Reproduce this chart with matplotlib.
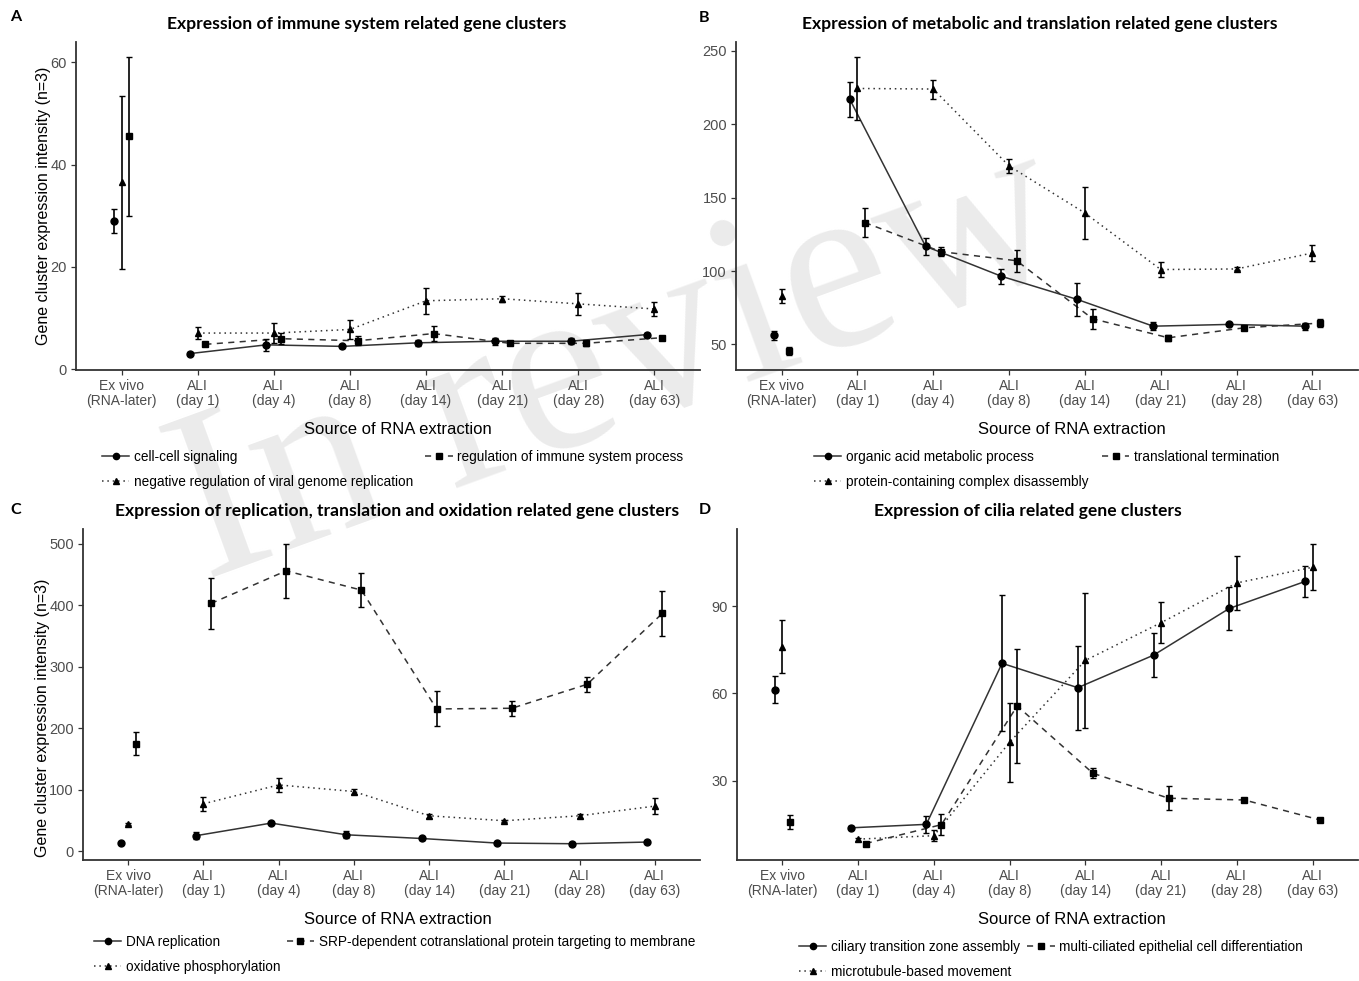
import numpy as np
import matplotlib
matplotlib.use("Agg")
import matplotlib.pyplot as plt
from matplotlib.lines import Line2D
from matplotlib import font_manager

# x categories shared by all four panels
categories = ["Ex vivo\n(RNA-later)", "ALI\n(day 1)", "ALI\n(day 4)", "ALI\n(day 8)",
              "ALI\n(day 14)", "ALI\n(day 21)", "ALI\n(day 28)", "ALI\n(day 63)"]

# A - immune system
a_labels = ["cell-cell signaling", "regulation of immune system process",
            "negative regulation of viral genome replication"]
a_circle = [29.0, 3.1, 4.8, 4.5, 5.2, 5.5, 5.5, 6.8]
a_circle_err = [2.4, 0.3, 1.2, 0.3, 0.6, 0.7, 0.6, 0.3]
a_square = [45.5, 4.9, 6.0, 5.6, 7.0, 5.1, 5.1, 6.2]
a_square_err = [15.5, 0.3, 1.1, 0.9, 1.4, 0.3, 0.5, 0.3]
a_tri = [36.5, 7.1, 7.1, 7.8, 13.4, 13.8, 12.8, 11.8]
a_tri_err = [16.8, 1.1, 1.9, 1.9, 2.5, 0.6, 2.2, 1.4]
a_ticks = [0, 20, 40, 60]

# B - metabolic / translation
b_labels = ["organic acid metabolic process", "translational termination",
            "protein-containing complex disassembly"]
b_circle = [56.1, 217.0, 116.8, 96.4, 80.6, 62.4, 63.6, 62.4]
b_circle_err = [3.2, 12.0, 6.0, 5.0, 11.3, 2.8, 1.0, 2.5]
b_square = [45.5, 133.0, 113.2, 107.0, 67.5, 54.5, 61.3, 64.5]
b_square_err = [2.8, 10.0, 3.0, 7.4, 6.8, 2.0, 1.2, 2.5]
b_tri = [82.8, 224.4, 224.0, 171.6, 139.5, 101.0, 101.4, 112.3]
b_tri_err = [4.7, 21.5, 6.5, 5.0, 17.6, 4.8, 1.0, 5.4]
b_ticks = [50, 100, 150, 200, 250]

# C - replication / translation / oxidation
c_labels = ["DNA replication", "SRP-dependent cotranslational protein targeting to membrane",
            "oxidative phosphorylation"]
c_circle = [13.6, 25.5, 46.0, 27.0, 21.0, 13.6, 12.5, 15.2]
c_circle_err = [2.0, 6.0, 2.0, 6.0, 3.0, 2.0, 2.0, 2.0]
c_square = [175.0, 402.7, 455.7, 424.4, 231.4, 232.5, 271.4, 386.6]
c_square_err = [18.5, 41.0, 43.5, 27.0, 28.5, 12.0, 12.0, 36.5]
c_tri = [44.4, 77.3, 108.0, 97.3, 57.9, 49.8, 57.9, 73.6]
c_tri_err = [2.0, 11.5, 11.5, 4.5, 3.5, 2.0, 3.5, 13.0]
c_ticks = [0, 100, 200, 300, 400, 500]

# D - cilia
d_labels = ["ciliary transition zone assembly", "multi-ciliated epithelial cell differentiation",
            "microtubule-based movement"]
d_circle = [61.3, 13.7, 14.9, 70.4, 62.0, 73.2, 89.3, 98.6]
d_circle_err = [4.6, 0.5, 3.0, 23.4, 14.5, 7.5, 7.3, 5.4]
d_square = [15.7, 8.3, 14.8, 55.7, 32.5, 23.9, 23.3, 16.4]
d_square_err = [2.4, 0.5, 3.5, 19.8, 1.7, 4.2, 0.8, 0.5]
d_tri = [76.1, 9.8, 11.0, 43.2, 71.4, 84.4, 98.1, 103.5]
d_tri_err = [9.2, 0.5, 2.0, 13.6, 23.3, 7.0, 9.2, 8.0]
d_ticks = [30, 60, 90]

installed = {f.name for f in font_manager.fontManager.ttflist}
narrow = "Liberation Sans Narrow" if "Liberation Sans Narrow" in installed else "Liberation Sans"
title_font = "Lato" if "Lato" in installed else "DejaVu Sans"

W, H = 1359, 981
fig = plt.figure(figsize=(W / 100, H / 100), dpi=100)

LINE = "#333333"
GREY = "#4d4d4d"
styles = [("o", "-", -0.1), ("s", (0, (4, 3.5)), 0.1), ("^", (0, (1, 2.5)), 0.0)]


def px_axes(left, top, right, bottom):
    ax = fig.add_axes([left / W, 1 - bottom / H, (right - left) / W, (bottom - top) / H])
    ax.set_facecolor("none")
    return ax


def panel(ax, series, labels, ticks, leg_xy, title, title_x, title_y, letter, letter_xy,
          xlab_x, ylab=None, colsp=0.55):
    x = np.arange(1, len(categories) + 1)
    lows, highs = [], []
    for (mean, err), (mk, ls, dx) in zip(series, styles):
        mean = np.array(mean)
        err = np.array(err)
        xs = x + dx
        ax.plot(xs[1:], mean[1:], color=LINE, ls=ls, lw=1.1, zorder=2)
        ax.errorbar(xs, mean, yerr=err, fmt="none", ecolor="black", elinewidth=1.2,
                    capsize=2, capthick=1.0, zorder=3)
        ax.plot(xs, mean, ls="none", marker=mk, color="black", ms=5, zorder=4)
        lows.append((mean - err).min())
        highs.append((mean + err).max())
    lo, hi = min(lows), max(highs)
    pad = 0.05 * (hi - lo)
    ax.set_ylim(lo - pad, hi + pad)
    ax.set_xlim(0.4, len(categories) + 0.6)
    ax.set_xticks(x)
    ax.set_xticklabels(categories, fontsize=10, color=GREY, family=narrow, linespacing=1.1)
    ax.set_yticks(ticks)
    ax.set_yticklabels([str(t) for t in ticks], fontsize=10.5, color=GREY, family=narrow)
    for s in ["top", "right"]:
        ax.spines[s].set_visible(False)
    for s in ["left", "bottom"]:
        ax.spines[s].set_color(LINE)
        ax.spines[s].set_linewidth(1.3)
    ax.tick_params(length=3.5, width=0.9, color=LINE, pad=3)
    ax.text(xlab_x, -0.18, "Source of RNA extraction", transform=ax.transAxes,
            ha="center", va="center", fontsize=12, family=narrow)
    if ylab is not None:
        ax.set_ylabel("Gene cluster expression intensity (n=3)", fontsize=11.5,
                      family="Liberation Sans")
        ax.yaxis.set_label_coords(ylab[0], ylab[1])

    handles = []
    for mk, ls, dx in styles:
        handles.append(Line2D([], [], color=LINE, ls=ls, lw=1.1, marker=mk,
                              mfc="black", mec="black", ms=4.5))
    order = [0, 2, 1]
    fig.legend([handles[i] for i in order], [labels[i] for i in order],
               loc="upper left", bbox_to_anchor=(leg_xy[0] / W, 1 - leg_xy[1] / H),
               ncol=2, frameon=False, borderpad=0, borderaxespad=0, handlelength=2.0,
               handletextpad=0.35, labelspacing=0.78, columnspacing=colsp,
               prop={"family": narrow, "size": 9.8})

    fig.text(title_x / W, 1 - title_y / H, title, ha="center", va="center",
             fontsize=12.6, fontweight="bold", family=title_font)
    fig.text(letter_xy[0] / W, 1 - letter_xy[1] / H, letter, ha="left", va="center",
             fontsize=11.5, fontweight="bold", family=title_font)


axA = px_axes(76, 42, 700, 370)
panel(axA, [(a_circle, a_circle_err), (a_square, a_square_err), (a_tri, a_tri_err)],
      a_labels, a_ticks, (102, 450), "Expression of immune system related gene clusters",
      367, 24, "A", (10, 17), 0.516, ylab=(-0.04, 0.5), colsp=0.9)

axB = px_axes(736, 42, 1358, 370)
panel(axB, [(b_circle, b_circle_err), (b_square, b_square_err), (b_tri, b_tri_err)],
      b_labels, b_ticks, (814, 450), "Expression of metabolic and translation related gene clusters",
      1040, 24, "B", (699, 18), 0.54, colsp=1.0)

axC = px_axes(83, 529, 700, 860)
panel(axC, [(c_circle, c_circle_err), (c_square, c_square_err), (c_tri, c_tri_err)],
      c_labels, c_ticks, (94, 935), "Expression of replication, translation and oxidation related gene clusters",
      397, 511, "C", (10, 510), 0.51, ylab=(-0.053, 0.43), colsp=0.45)

axD = px_axes(737, 529, 1358, 860)
panel(axD, [(d_circle, d_circle_err), (d_square, d_square_err), (d_tri, d_tri_err)],
      d_labels, d_ticks, (799, 940), "Expression of cilia related gene clusters",
      1028, 511, "D", (699, 510), 0.54)

# watermark
fig.text(205 / W, 1 - 580 / H, "In review", fontsize=175, family="Liberation Serif",
         color="#ebebeb", rotation=20, rotation_mode="anchor", ha="left", va="baseline",
         zorder=-10)

fig.savefig("out.png", dpi=100, facecolor="white")
